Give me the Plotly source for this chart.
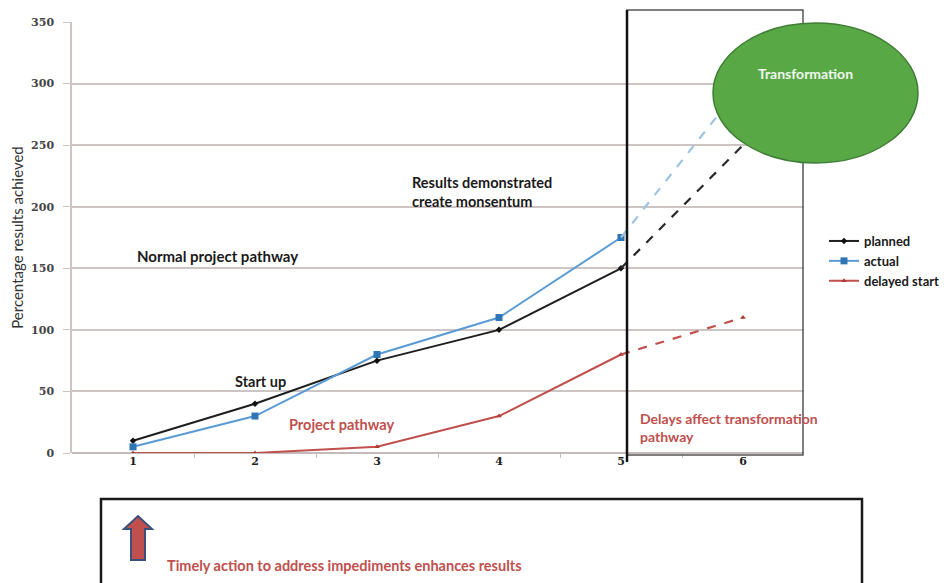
import plotly.graph_objects as go

# ---- data ----
periods = [1, 2, 3, 4, 5, 6]
planned = [10, 40, 75, 100, 150, 250]
actual = [5, 30, 80, 110, 175, 300]
delayed = [0, 0, 5, 30, 80, 110]
series_names = ["planned", "actual", "delayed start"]
y_ticks = [0, 50, 100, 150, 200, 250, 300, 350]

OFF = 8  # page body margin
W, H = 949 - OFF, 583 - OFF
L, T = 72 - OFF, 22 - OFF
R = W - (804 - OFF)
B = H - (453 - OFF)
PW, PH = W - L - R, H - T - B


def px(x):  # screen pixel -> paper x
    return (x - OFF - L) / PW


def py(y):  # screen pixel -> paper y
    return (T + PH - (y - OFF)) / PH


fig = go.Figure()

styles = [
    dict(line="#1e1e1e", marker="#111111", symbol="diamond", msize=5, dash_col="#2a2a2a"),
    dict(line="#5b9bd5", marker="#2e75b6", symbol="square", msize=7, dash_col="#9ec4e2"),
    dict(line="#c0504d", marker="#b03a36", symbol="triangle-up", msize=5, dash_col="#c0504d"),
]

for name, vals, st in zip(series_names, [planned, actual, delayed], styles):
    fig.add_trace(go.Scatter(
        x=periods[:5], y=vals[:5], name=f"<b>{name}</b>", mode="lines+markers",
        line=dict(color=st["line"], width=2),
        marker=dict(color=st["marker"], symbol=st["symbol"], size=st["msize"]),
        showlegend=True))
    fig.add_trace(go.Scatter(
        x=periods[4:], y=vals[4:], mode="lines",
        line=dict(color=st["dash_col"], width=2.2, dash="dash"),
        showlegend=False, hoverinfo="skip"))
fig.add_trace(go.Scatter(x=[periods[5]], y=[delayed[5]], mode="markers",
                         marker=dict(color="#b03a36", symbol="triangle-up", size=5),
                         showlegend=False, hoverinfo="skip"))

shapes = []
shapes.append(dict(type="rect", xref="paper", yref="paper",
                   x0=px(627), x1=px(803), y0=py(455), y1=py(10),
                   line=dict(color="#555555", width=1.5), fillcolor="rgba(0,0,0,0)"))
shapes.append(dict(type="line", xref="paper", yref="paper",
                   x0=px(627), x1=px(627), y0=py(462), y1=py(10),
                   line=dict(color="#111111", width=2.5)))
shapes.append(dict(type="circle", xref="paper", yref="paper",
                   x0=px(713), x1=px(918), y0=py(163), y1=py(23),
                   line=dict(color="#3f7d34", width=1.5), fillcolor="#58a846", layer="above"))
shapes.append(dict(type="rect", xref="paper", yref="paper",
                   x0=px(101), x1=px(862), y0=py(600), y1=py(499),
                   line=dict(color="#1a1a1a", width=2.5), fillcolor="rgba(0,0,0,0)"))
pts = [(131, 560), (131, 529), (124, 529), (138, 516), (152, 529), (145, 529), (145, 560)]
path = "M " + " L ".join(f"{px(a)},{py(b)}" for a, b in pts) + " Z"
shapes.append(dict(type="path", xref="paper", yref="paper", path=path,
                   fillcolor="#c0504d", line=dict(color="#3b4f7a", width=2)))

annots = []
tf = "Lato, 'Open Sans', sans-serif"
annots.append(dict(x=1.02, y=160, xref="x", yref="y", text="<b>Normal project pathway</b>",
                   showarrow=False, xanchor="left", yanchor="middle",
                   font=dict(family=tf, size=15, color="#1a1a1a")))
annots.append(dict(x=3.27, y=212, xref="x", yref="y",
                   text="<b>Results demonstrated<br>create monsentum</b>",
                   showarrow=False, xanchor="left", yanchor="middle", align="left",
                   font=dict(family=tf, size=14.5, color="#1a1a1a")))
annots.append(dict(x=1.82, y=58, xref="x", yref="y", text="<b>Start up</b>",
                   showarrow=False, xanchor="left", yanchor="middle",
                   font=dict(family=tf, size=14.5, color="#1a1a1a")))
annots.append(dict(x=2.26, y=23.5, xref="x", yref="y", text="<b>Project pathway</b>",
                   showarrow=False, xanchor="left", yanchor="middle",
                   font=dict(family=tf, size=14.5, color="#c0504d")))
annots.append(dict(x=5.14, y=21, xref="x", yref="y",
                   text="<b>Delays affect transformation<br>pathway</b>",
                   showarrow=False, xanchor="left", yanchor="middle", align="left",
                   font=dict(family=tf, size=14, color="#c0504d")))
annots.append(dict(x=px(806), y=py(73), xref="paper", yref="paper", text="<b>Transformation</b>",
                   showarrow=False, xanchor="center", yanchor="middle",
                   font=dict(family=tf, size=14, color="#f0f7ee")))
annots.append(dict(x=px(165), y=py(565), xref="paper", yref="paper",
                   text="<b>Timely action to address impediments enhances results</b>",
                   showarrow=False, xanchor="left", yanchor="middle",
                   font=dict(family=tf, size=14.5, color="#c0504d")))

tickfam = "DejaVu Serif"
fig.update_layout(
    width=W, height=H,
    margin=dict(l=L, r=R, t=T, b=B, autoexpand=False),
    paper_bgcolor="white", plot_bgcolor="white",
    shapes=shapes, annotations=annots,
    legend=dict(x=px(824), y=py(226), xanchor="left", yanchor="top",
                font=dict(family=tf, size=13, color="#1a1a1a"),
                itemwidth=30, tracegroupgap=0, bgcolor="rgba(0,0,0,0)"),
    xaxis=dict(range=[0.5, 6.5], tickvals=periods, ticktext=[f"<b>{p}</b>" for p in periods],
               showgrid=False, zeroline=False, showline=False,
               ticks="", tickfont=dict(family=tickfam, size=11, color="#222"),
               minor=dict(tickvals=[1.5, 2.5, 3.5, 4.5, 5.5], ticks="outside", ticklen=4,
                          tickcolor="#c8c0c0")),
    yaxis=dict(range=[0, 350], tickvals=y_ticks, ticktext=[f"<b>{v}</b>" for v in y_ticks],
               showgrid=True, gridcolor="#cdc4c4", gridwidth=1.5,
               zeroline=True, zerolinecolor="#c4baba", zerolinewidth=2,
               showline=True, linecolor="#cdc4c4", linewidth=1.5,
               ticks="outside", ticklen=7, tickcolor="#cdc4c4", ticklabelstandoff=7,
               tickfont=dict(family=tickfam, size=11, color="#444"),
               title=dict(text="Percentage results achieved", standoff=5,
                          font=dict(family=tf, size=15, color="#333"))),
)

fig.write_html("out.html")
